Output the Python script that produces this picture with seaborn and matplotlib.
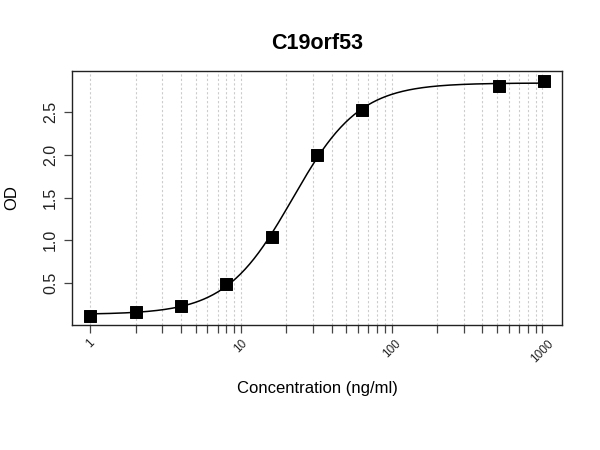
import numpy as np
import pandas as pd
import matplotlib
matplotlib.use("Agg")
import matplotlib.pyplot as plt
import seaborn as sns
from matplotlib.ticker import FixedLocator, NullFormatter

# ---- data ----
title = "C19orf53"
x_label = "Concentration (ng/ml)"
y_label = "OD"
concentration = [1, 2, 4, 8, 16, 32, 64, 512, 1024]
od = [0.12, 0.16, 0.235, 0.49, 1.04, 2.0, 2.52, 2.81, 2.87]
x_major_ticks = [1, 10, 100, 1000]
x_tick_labels = ["1", "10", "100", "1000"]
y_ticks = [0.5, 1.0, 1.5, 2.0, 2.5]
y_tick_labels = ["0.5", "1.0", "1.5", "2.0", "2.5"]

# ---- 4-parameter logistic fit to the points (as the original curve is a fit) ----
xd = np.array(concentration, float)
yd = np.array(od, float)

def model(p, x):
    a, d, logc, b = p
    return d + (a - d) / (1.0 + (x / np.exp(logc)) ** b)

p = np.array([yd.min(), yd.max(), np.log(20.0), 1.5])
lam = 1e-2
for _ in range(500):
    r = yd - model(p, xd)
    J = np.zeros((len(xd), 4))
    for k in range(4):
        dp = np.zeros(4); dp[k] = 1e-6
        J[:, k] = (model(p + dp, xd) - model(p - dp, xd)) / 2e-6
    A = J.T @ J
    g = J.T @ r
    step = np.linalg.solve(A + lam * np.diag(np.diag(A)), g)
    pn = p + step
    if np.sum((yd - model(pn, xd)) ** 2) < np.sum(r ** 2):
        p = pn; lam *= 0.5
    else:
        lam *= 4
xs = np.logspace(np.log10(xd.min()), np.log10(xd.max()), 300)
curve = pd.DataFrame({"x": xs, "y": model(p, xs)})
points = pd.DataFrame({"x": xd, "y": yd})

# ---- figure ----
sns.set_theme(style="white")
plt.rcParams["font.family"] = ["Liberation Sans", "DejaVu Sans"]
fig = plt.figure(figsize=(6, 4.5), dpi=100)
ax = fig.add_axes([0.12, 0.278, 0.817, 0.564])

lx = np.log10(xd)
span = lx.max() - lx.min()
ax.set_xscale("log")
ax.set_xlim(10 ** (lx.min() - 0.04 * span), 10 ** (lx.max() + 0.04 * span))
yspan = yd.max() - yd.min()
ax.set_ylim(yd.min() - 0.04 * yspan, yd.max() + 0.04 * yspan)

# vertical dotted grid at all decades and sub-decades
grid_pos = [m * 10 ** e for e in range(0, 3) for m in range(1, 10)] + [1000]
for g in grid_pos:
    ax.axvline(g, color="#cccccc", linestyle=(0, (2, 2)), linewidth=0.8, zorder=0)

sns.lineplot(data=curve, x="x", y="y", ax=ax, color="black", linewidth=1.1, zorder=2)
sns.scatterplot(data=points, x="x", y="y", ax=ax, marker="s", s=75, color="black",
                edgecolor="black", zorder=3)

ax.xaxis.set_major_locator(FixedLocator(x_major_ticks))
ax.xaxis.set_minor_locator(FixedLocator([g for g in grid_pos if g not in x_major_ticks]))
ax.set_xticklabels(x_tick_labels, rotation=45, ha="center", va="top", fontsize=8.5,
                   color="#222222")
ax.xaxis.set_minor_formatter(NullFormatter())
ax.set_yticks(y_ticks)
ax.set_yticklabels(y_tick_labels, rotation=90, va="center", fontsize=11.5,
                   color="#222222")

ax.tick_params(axis="x", which="both", direction="out", length=6, width=0.9,
               color="#444444", bottom=True, pad=3)
ax.tick_params(axis="y", which="major", direction="out", length=6, width=0.9,
               color="#444444", left=True, pad=4)

for s in ax.spines.values():
    s.set_color("#222222")
    s.set_linewidth(1.0)

ax.set_xlabel(x_label, fontsize=12, labelpad=12, color="black")
ax.set_ylabel(y_label, fontsize=12, labelpad=17, color="black")
ax.set_title(title, fontsize=15.5, fontweight="bold", pad=16, color="black")

fig.savefig("out.png", dpi=100)
